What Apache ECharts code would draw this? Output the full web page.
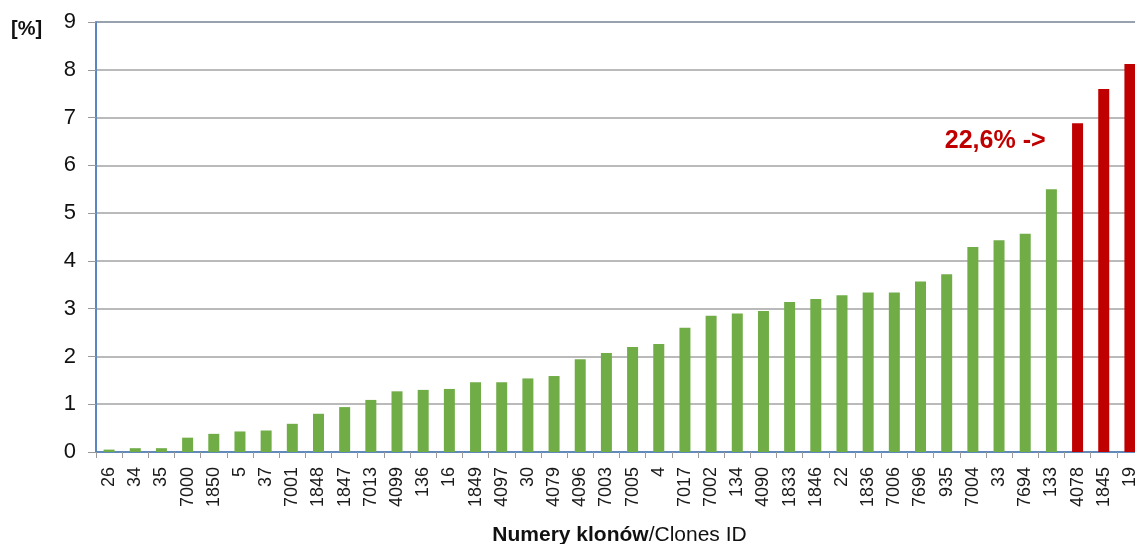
<!DOCTYPE html>
<html>
<head>
<meta charset="utf-8">
<script src="https://cdn.jsdelivr.net/npm/echarts@6/dist/echarts.min.js"></script>
<style>
  html, body { margin: 0; padding: 0; background: #fff; }
  #chart { width: 1135px; height: 544px; }
</style>
</head>
<body>
<div id="chart"></div>
<script>
// Clone IDs in ascending order of share
const clones = ['26','34','35','7000','1850','5','37','7001','1848','1847','7013','4099','136','16',
  '1849','4097','30','4079','4096','7003','7005','4','7017','7002','134','4090','1833','1846','22',
  '1836','7006','7696','935','7004','33','7694','133','4078','1845','19'];

// Share of each clone [%]
const shares = [0.05, 0.08, 0.08, 0.30, 0.38, 0.43, 0.45, 0.59, 0.80, 0.94, 1.09, 1.27, 1.30, 1.32,
  1.46, 1.46, 1.54, 1.59, 1.94, 2.07, 2.20, 2.26, 2.60, 2.85, 2.90, 2.95, 3.14, 3.20, 3.28,
  3.34, 3.34, 3.57, 3.72, 4.29, 4.43, 4.57, 5.50, 6.88, 7.60, 8.12];

// The three dominant clones, highlighted in red (together 22,6 %)
const dominant = ['4078', '1845', '19'];
const totalLabel = '22,6% ->';

const yTicks = { min: 0, max: 9, interval: 1 };

const GREEN = '#70ad47';
const RED = '#c00000';
const AXIS_BLUE = '#4f81bd';
const GRID_GRAY = '#a3a3a3';
const FONT = 'Liberation Sans, Arial';

const chart = echarts.init(document.getElementById('chart'));

const barData = clones.map((id, i) => ({
  value: shares[i],
  itemStyle: { color: dominant.includes(id) ? RED : GREEN }
}));

chart.setOption({
  animation: false,
  backgroundColor: '#fff',
  grid: {
    left: 96, top: 22, width: 1047, height: 430,
    outerBoundsMode: 'none',
    show: true, borderColor: AXIS_BLUE, borderWidth: 1.5, backgroundColor: 'transparent'
  },
  xAxis: {
    type: 'category',
    data: clones,
    axisLine: { lineStyle: { color: AXIS_BLUE, width: 1.5 } },
    axisTick: { show: true, length: 6, lineStyle: { color: '#999' } },
    axisLabel: {
      rotate: 90, interval: 0, margin: 15,
      fontFamily: FONT, fontSize: 18, color: '#1a1a1a'
    },
    name: '{b|Numery klonów}{r|/Clones ID}',
    nameLocation: 'middle',
    nameGap: 73,
    nameTextStyle: {
      rich: {
        b: { fontFamily: FONT, fontWeight: 'bold', fontSize: 21, color: '#111' },
        r: { fontFamily: FONT, fontSize: 21, color: '#111' }
      }
    }
  },
  yAxis: {
    type: 'value',
    min: yTicks.min, max: yTicks.max, interval: yTicks.interval,
    axisLine: { show: true, lineStyle: { color: AXIS_BLUE, width: 1.5 } },
    axisTick: { show: true, length: 8, inside: false, lineStyle: { color: '#999' } },
    axisLabel: { margin: 20, fontFamily: FONT, fontSize: 22, color: '#111' },
    splitLine: { lineStyle: { color: GRID_GRAY, width: 1.5 } }
  },
  graphic: [{
    type: 'text', left: 11, top: 19,
    style: { text: '[%]', fontFamily: FONT, fontWeight: 'bold', fontSize: 20, fill: '#111' }
  }],
  series: [{
    type: 'bar',
    data: barData,
    barWidth: 11
  }]
});

// Place the total annotation to the left of the first dominant bar
const anchor = chart.convertToPixel({ xAxisIndex: 0, yAxisIndex: 0 }, [dominant[0], 6.5]);
chart.setOption({
  graphic: [{}, {
    type: 'text',
    x: anchor[0] - 32, y: anchor[1],
    style: {
      text: totalLabel, align: 'right', verticalAlign: 'middle',
      fontFamily: FONT, fontWeight: 'bold', fontSize: 25, fill: RED
    }
  }]
});
</script>
</body>
</html>
